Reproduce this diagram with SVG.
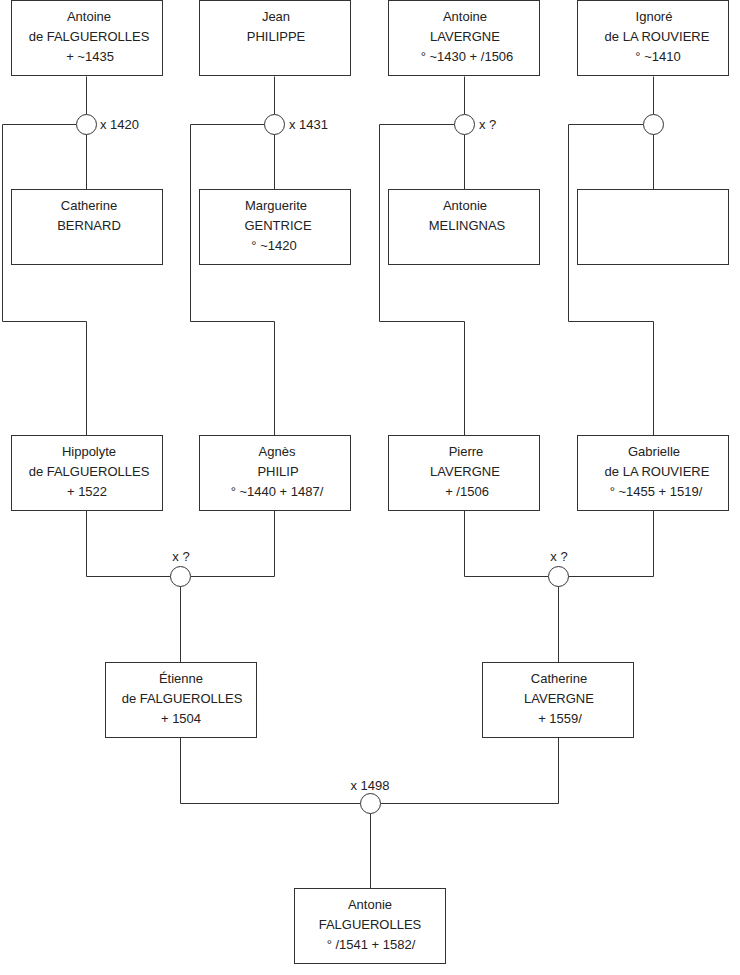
<svg xmlns="http://www.w3.org/2000/svg" width="740" height="975" viewBox="0 0 740 975">
<style>
  .box { fill: #fff; stroke: #333; stroke-width: 1; }
  .ring { fill: #fff; stroke: #333; stroke-width: 1; }
  .ln { fill: none; stroke: #333; stroke-width: 1; }
  text { font-family: "Liberation Sans", Arial, sans-serif; font-size: 13px; fill: #222; }
  .c { text-anchor: middle; }
</style>
<rect width="740" height="975" fill="#fff"/>
<g id="connectors">
  <!-- group 1 -->
  <path class="ln" d="M86.5 76.5 V114.5 M86.5 134.5 V189.5 M76.5 124.5 H2.5 V321.5 H86.5 V435.5"/>
  <!-- group 2 -->
  <path class="ln" d="M274.5 76.5 V114.5 M274.5 134.5 V189.5 M264.5 124.5 H190.5 V321.5 H274.5 V435.5"/>
  <!-- group 3 -->
  <path class="ln" d="M464.5 76.5 V114.5 M464.5 134.5 V189.5 M454.5 124.5 H379.5 V321.5 H464.5 V435.5"/>
  <!-- group 4 -->
  <path class="ln" d="M653.5 76.5 V114.5 M653.5 134.5 V189.5 M643.5 124.5 H568.5 V321.5 H653.5 V435.5"/>
  <!-- lower left -->
  <path class="ln" d="M86.5 510.5 V576.5 H170.5 M274.5 510.5 V576.5 H190.5 M180.5 586.5 V662.5"/>
  <!-- lower right -->
  <path class="ln" d="M464.5 510.5 V576.5 H548.5 M653.5 510.5 V576.5 H568.5 M558.5 586.5 V662.5"/>
  <!-- bottom -->
  <path class="ln" d="M180.5 737.5 V803.5 H360.5 M558.5 737.5 V803.5 H380.5 M370.5 813.5 V888.5"/>
</g>
<g id="union1"><circle class="ring" cx="86.5" cy="124.5" r="10"/><text x="100" y="129">x 1420</text></g>
<g id="union2"><circle class="ring" cx="274.5" cy="124.5" r="10"/><text x="289" y="129">x 1431</text></g>
<g id="union3"><circle class="ring" cx="464.5" cy="124.5" r="10"/><text x="479" y="129">x ?</text></g>
<g id="union4"><circle class="ring" cx="653.5" cy="124.5" r="10"/></g>
<g id="union5"><circle class="ring" cx="180.5" cy="576.5" r="10"/><text class="c" x="181" y="561">x ?</text></g>
<g id="union6"><circle class="ring" cx="558.5" cy="576.5" r="10"/><text class="c" x="559" y="561">x ?</text></g>
<g id="union7"><circle class="ring" cx="370.5" cy="803.5" r="10"/><text class="c" x="370" y="790">x 1498</text></g>

<g id="antoine-falguerolles">
  <rect class="box" x="11.5" y="0.5" width="151" height="75"/>
  <text class="c" x="89" y="21">Antoine</text>
  <text class="c" x="89" y="41">de FALGUEROLLES</text>
  <text class="c" x="90" y="61">+ ~1435</text>
</g>
<g id="jean-philippe">
  <rect class="box" x="199.5" y="0.5" width="151" height="75"/>
  <text class="c" x="276" y="21">Jean</text>
  <text class="c" x="276" y="41">PHILIPPE</text>
</g>
<g id="antoine-lavergne">
  <rect class="box" x="388.5" y="0.5" width="151" height="75"/>
  <text class="c" x="465" y="21">Antoine</text>
  <text class="c" x="465" y="41">LAVERGNE</text>
  <text class="c" x="467" y="61">° ~1430 + /1506</text>
</g>
<g id="ignore-la-rouviere">
  <rect class="box" x="577.5" y="0.5" width="151" height="75"/>
  <text class="c" x="654" y="21">Ignoré</text>
  <text class="c" x="657" y="41">de LA ROUVIERE</text>
  <text class="c" x="658" y="61">° ~1410</text>
</g>

<g id="catherine-bernard">
  <rect class="box" x="11.5" y="189.5" width="151" height="75"/>
  <text class="c" x="89" y="210">Catherine</text>
  <text class="c" x="89" y="230">BERNARD</text>
</g>
<g id="marguerite-gentrice">
  <rect class="box" x="199.5" y="189.5" width="151" height="75"/>
  <text class="c" x="276" y="210">Marguerite</text>
  <text class="c" x="278" y="230">GENTRICE</text>
  <text class="c" x="274" y="250">° ~1420</text>
</g>
<g id="antonie-melingnas">
  <rect class="box" x="388.5" y="189.5" width="151" height="75"/>
  <text class="c" x="465" y="210">Antonie</text>
  <text class="c" x="467" y="230">MELINGNAS</text>
</g>
<g id="unknown-spouse">
  <rect class="box" x="577.5" y="189.5" width="151" height="75"/>
</g>

<g id="hippolyte-falguerolles">
  <rect class="box" x="11.5" y="435.5" width="151" height="75"/>
  <text class="c" x="89" y="456">Hippolyte</text>
  <text class="c" x="89" y="476">de FALGUEROLLES</text>
  <text class="c" x="87" y="496">+ 1522</text>
</g>
<g id="agnes-philip">
  <rect class="box" x="199.5" y="435.5" width="151" height="75"/>
  <text class="c" x="277" y="456">Agnès</text>
  <text class="c" x="278" y="476">PHILIP</text>
  <text class="c" x="277" y="496">° ~1440 + 1487/</text>
</g>
<g id="pierre-lavergne">
  <rect class="box" x="388.5" y="435.5" width="151" height="75"/>
  <text class="c" x="466" y="456">Pierre</text>
  <text class="c" x="465" y="476">LAVERGNE</text>
  <text class="c" x="467" y="496">+ /1506</text>
</g>
<g id="gabrielle-la-rouviere">
  <rect class="box" x="577.5" y="435.5" width="151" height="75"/>
  <text class="c" x="654" y="456">Gabrielle</text>
  <text class="c" x="657" y="476">de LA ROUVIERE</text>
  <text class="c" x="656" y="496">° ~1455 + 1519/</text>
</g>

<g id="etienne-falguerolles">
  <rect class="box" x="105.5" y="662.5" width="151" height="75"/>
  <text class="c" x="181" y="683">Étienne</text>
  <text class="c" x="182" y="703">de FALGUEROLLES</text>
  <text class="c" x="181" y="723">+ 1504</text>
</g>
<g id="catherine-lavergne">
  <rect class="box" x="482.5" y="662.5" width="151" height="75"/>
  <text class="c" x="559" y="683">Catherine</text>
  <text class="c" x="559" y="703">LAVERGNE</text>
  <text class="c" x="560" y="723">+ 1559/</text>
</g>
<g id="antonie-falguerolles">
  <rect class="box" x="294.5" y="888.5" width="151" height="75"/>
  <text class="c" x="370" y="909">Antonie</text>
  <text class="c" x="370" y="929">FALGUEROLLES</text>
  <text class="c" x="371" y="949">° /1541 + 1582/</text>
</g>
</svg>
